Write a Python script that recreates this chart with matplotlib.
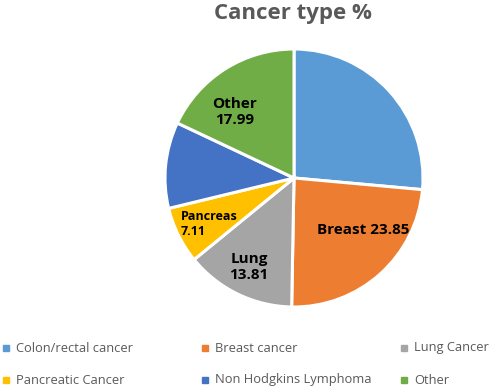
import matplotlib.pyplot as plt
from matplotlib.patches import Rectangle

plt.rcParams['font.family'] = ['Open Sans', 'DejaVu Sans']

# data (percent)
categories = ['Colon/rectal cancer', 'Breast cancer', 'Lung Cancer',
              'Pancreatic Cancer', 'Non Hodgkins Lymphoma', 'Other']
values = [26.44, 23.85, 13.81, 7.11, 10.80, 17.99]
slice_text = ['', 'Breast 23.85', 'Lung\n13.81', 'Pancreas\n7.11', '', 'Other\n17.99']
colors = ['#5B9BD5', '#ED7D31', '#A5A5A5', '#FFC000', '#4472C4', '#70AD47']

# where each in-slice label sits (pie radius = 1), and its size
text_pos = [None, (0.54, -0.40), (-0.35, -0.69), (-0.88, -0.36), None, (-0.46, 0.51)]
text_size = [0, 11, 11, 9, 0, 11]
text_ha = ['center', 'center', 'center', 'left', 'center', 'center']

fig = plt.figure(figsize=(5, 3.89), dpi=100)
W, H = 500, 389
cx, cy, r = 294, 178, 129
ax = fig.add_axes([(cx - r) / W, (H - cy - r) / H, 2 * r / W, 2 * r / H])

wedges, _ = ax.pie(values, colors=colors, startangle=90, counterclock=False,
                   radius=1, wedgeprops=dict(edgecolor='white', linewidth=2.2))
ax.set_xlim(-1, 1)
ax.set_ylim(-1, 1)
ax.set_aspect('equal')
ax.axis('off')

for txt, pos, size, ha in zip(slice_text, text_pos, text_size, text_ha):
    if txt:
        ax.text(pos[0], pos[1], txt, ha=ha, va='center', fontsize=size,
                fontweight='bold', color='black', linespacing=1.2)

fig.text(293 / W, 1 - 13 / H, 'Cancer type %', ha='center', va='center',
         fontsize=16, fontweight='bold', color='#595959')

# legend, 3 columns x 2 rows
col_x = [3, 202, 401]
row_y = [348, 380]
for i, (name, c) in enumerate(zip(categories, colors)):
    x = col_x[i % 3]
    y = row_y[i // 3]
    fig.add_artist(Rectangle((x / W, (H - y - 3) / H), 6 / W, 6 / H,
                             transform=fig.transFigure, color=c))
    fig.text((x + 13) / W, 1 - y / H, name, ha='left', va='center',
             fontsize=9.3, color='#595959')

fig.savefig('out.png', dpi=100)
